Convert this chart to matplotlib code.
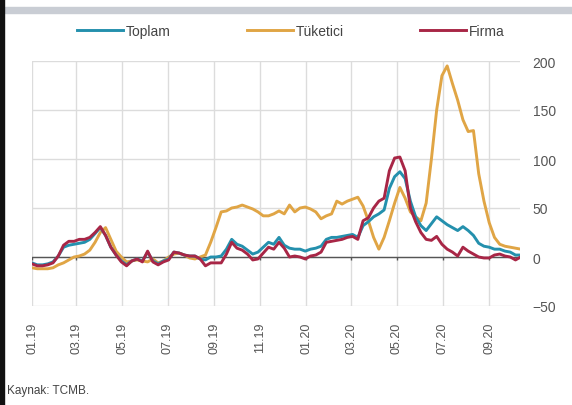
import matplotlib
matplotlib.use("Agg")
import matplotlib.pyplot as plt
import matplotlib.dates as mdates
import pandas as pd
import numpy as np

# weekly observations, Jan 2019 - Oct 2020
dates = pd.date_range("2019-01-01", periods=94, freq="7D")

toplam = [-6, -8, -8, -7, -5, 1, 10, 12, 13, 14, 15, 18, 24, 30, 22, 10, 2, -4, -8, -4,
          -2, -4, 5, -4, -7, -4, -2, 5, 4, 2, 1, 1, -2, -3, 0, 0, 1, 8, 18, 13,
          11, 7, 3, 5, 10, 15, 13, 20, 12, 9, 8, 8, 6, 8, 9, 11, 18, 20, 20, 21,
          22, 23, 20, 32, 36, 41, 44, 48, 70, 82, 87, 80, 57, 41, 32, 27, 34, 41, 37, 33,
          30, 27, 31, 27, 22, 14, 11, 10, 8, 8, 6, 5, 2, 2]

tuketici = [-11, -12, -12, -12, -11, -8, -6, -3, 0, 1, 3, 7, 15, 25, 30, 18, 6, 0, -5, -4,
            -3, -4, -5, -2, -6, -4, 0, 3, 4, 2, -1, -2, 0, 2, 15, 30, 46, 47, 50, 51,
            53, 51, 49, 46, 42, 42, 44, 47, 44, 53, 46, 50, 51, 49, 46, 39, 42, 44, 57, 54,
            57, 59, 61, 52, 37, 20, 8, 20, 37, 55, 71, 60, 46, 41, 37, 55, 100, 150, 185, 195,
            177, 160, 140, 128, 129, 85, 57, 35, 20, 13, 11, 10, 9, 8]

firma = [-7, -9, -9, -8, -6, 1, 12, 16, 16, 18, 18, 20, 25, 31, 22, 10, 2, -5, -9, -4,
         -2, -5, 6, -5, -8, -5, -3, 5, 4, 2, 1, 1, -2, -9, -6, -6, -6, 3, 15, 9,
         7, 3, -3, -2, 4, 10, 8, 15, 9, 0, 1, 0, -2, 1, 2, 5, 15, 16, 17, 18,
         20, 21, 18, 37, 40, 50, 57, 60, 88, 101, 102, 88, 50, 36, 25, 18, 17, 21, 13, 8,
         5, 1, 10, 6, 3, 0, -1, -1, 2, 3, 1, 0, -3, 0]

series_names = ["Toplam", "Tüketici", "Firma"]
colors = {"Toplam": "#2490ad", "Tüketici": "#e0a545", "Firma": "#a82646"}

tick_dates = pd.date_range("2019-01-01", "2020-09-01", freq="2MS")
y_ticks = [-50, 0, 50, 100, 150, 200]

plt.rcParams['font.family'] = ['Liberation Sans', 'DejaVu Sans']

fig = plt.figure(figsize=(5.72, 4.06), dpi=100)
ax = fig.add_axes([32/572, 1 - 307/406, (520-32)/572, (307-62)/406])

grid_c = "#dcdcdc"
ax.set_ylim(-50, 200)
ax.set_xlim(pd.Timestamp("2019-01-01"), pd.Timestamp("2020-10-12"))
ax.set_yticks(y_ticks)
ax.set_xticks(tick_dates)
ax.xaxis.set_major_formatter(mdates.DateFormatter("%m.%y"))
ax.grid(True, color=grid_c, lw=1.0)
ax.set_axisbelow(True)
for s in ax.spines.values():
    s.set_visible(False)

ax.yaxis.tick_right()
ax.tick_params(axis='y', length=0, pad=9, labelsize=10, labelcolor="#555555")
ax.tick_params(axis='x', length=0, pad=11, labelsize=9, labelcolor="#555555", rotation=90)

# zero line with small ticks
ax.axhline(0, color="#555555", lw=1.0, zorder=2)
ax.vlines(tick_dates, -3, 0, color="#555555", lw=1.0, zorder=2)

ax.plot(dates, tuketici, color=colors["Tüketici"], lw=2.1, label="Tüketici", zorder=3)
ax.plot(dates, toplam, color=colors["Toplam"], lw=2.1, label="Toplam", zorder=4)
ax.plot(dates, firma, color=colors["Firma"], lw=2.1, label="Firma", zorder=5)

handles, labels = ax.get_legend_handles_labels()
order = [labels.index(n) for n in series_names]
fig.legend([handles[i] for i in order], [labels[i] for i in order],
           loc="center", bbox_to_anchor=(291/572, 1 - 32/406), ncol=3, frameon=False,
           fontsize=10, handlelength=3.3, handletextpad=0.2, columnspacing=5.5,
           labelcolor="#444444")

# decorations: top gray band, left border
fig.patches.append(plt.Rectangle((5/572, 1 - 14/406), 1, 6/406, transform=fig.transFigure,
                                 color="#c9cdd4", zorder=0))
fig.patches.append(plt.Rectangle((0, 0), 4/572, 1, transform=fig.transFigure,
                                 color="#111111", zorder=0))

fig.text(7/572, 1 - 391/406, "Kaynak: TCMB.", fontsize=8.5, color="#444444", va="center")

fig.savefig("out.png", dpi=100)
